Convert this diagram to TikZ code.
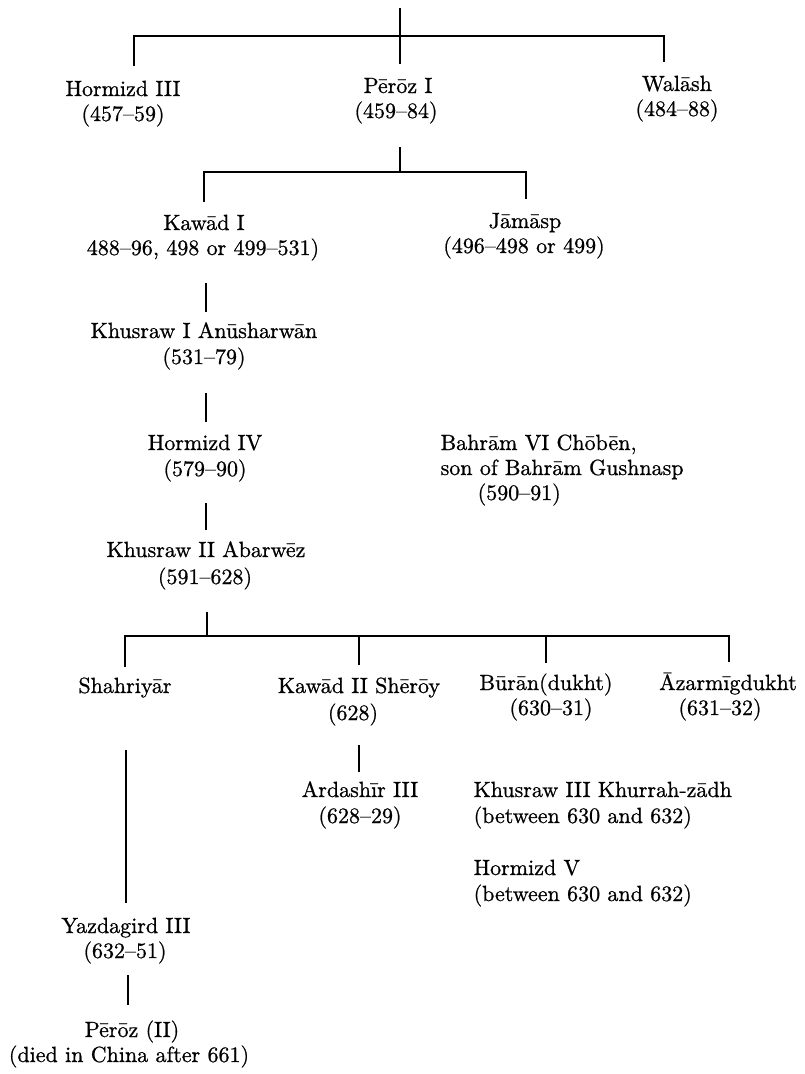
\documentclass[tikz,border=0pt]{standalone}
\usepackage{fontspec}
\setmainfont{lmroman10-regular.otf}[FakeBold=0.8]
\begin{document}
\begin{tikzpicture}[x=1pt,y=-1pt,line width=1.3pt,
  lbl/.style={inner sep=0pt,font=\fontsize{22}{25}\selectfont\bfseries,anchor=base},
  lblw/.style={lbl,anchor=base west}]
\useasboundingbox (0,0) rectangle (804,1074);
% ---------- row 1
\node[lbl] (h3)  at (123,96) {Hormizd III};
\node[lbl] (h3d) at (123,121) {(457–59)};
\node[lbl] (p1)  at (398,93) {Pērōz I};
\node[lbl] (p1d) at (396,118) {(459–84)};
\node[lbl] (w1)  at (677,91) {Walāsh};
\node[lbl] (w1d) at (677,116) {(484–88)};
% ---------- row 2
\node[lbl] (k1)  at (204,230) {Kawād I};
\node[lbl] (k1d) at (203,255) {488–96, 498 or 499–531)};
\node[lbl] (jm)  at (525,228) {Jāmāsp};
\node[lbl] (jmd) at (524,253) {(496–498 or 499)};
% ---------- main line
\node[lbl] (kh1)  at (204,338) {Khusraw I Anūsharwān};
\node[lbl] (kh1d) at (204,364) {(531–79)};
\node[lbl] (h4)   at (205,450) {Hormizd IV};
\node[lbl] (h4d)  at (205,476) {(579–90)};
\node[lblw] (b6a) at (440,450) {Bahrām VI Chōbēn,};
\node[lblw] (b6b) at (440,475) {son of Bahrām Gushnasp};
\node[lblw] (b6d) at (477,500) {(590–91)};
\node[lbl] (kh2)  at (206,557) {Khusraw II Abarwēz};
\node[lbl] (kh2d) at (205,584) {(591–628)};
% ---------- children of Khusraw II
\node[lbl] (sh)   at (125,693) {Shahriyār};
\node[lbl] (kw2)  at (359,693) {Kawād II Shērōy};
\node[lbl] (kw2d) at (353,720) {(628)};
\node[lbl] (bu)   at (546,690) {Būrān(dukht)};
\node[lbl] (bud)  at (551,715) {(630–31)};
\node[lbl] (az)   at (728,690) {Āzarmīgdukht};
\node[lbl] (azd)  at (720,715) {(631–32)};
% ---------- lower rows
\node[lbl] (a3)   at (360,797) {Ardashīr III};
\node[lbl] (a3d)  at (360,823) {(628–29)};
\node[lblw] (kh3)  at (473,797) {Khusraw III Khurrah-zādh};
\node[lblw] (kh3d) at (473,823) {(between 630 and 632)};
\node[lblw] (h5)   at (473,875) {Hormizd V};
\node[lblw] (h5d)  at (473,901) {(between 630 and 632)};
\node[lbl] (y3)   at (126,933) {Yazdagird III};
\node[lbl] (y3d)  at (125,958) {(632–51)};
\node[lbl] (p2)   at (132,1037) {Pērōz (II)};
\node[lbl] (p2d)  at (129,1062) {(died in China after 661)};
% ---------- connector points
\coordinate (t0)    at (400,8);
\coordinate (p1top) at (400,64);
\coordinate (j1)    at (400,36);
\coordinate (h3top) at (134,66);
\coordinate (w1top) at (664,62);
\coordinate (p1bot) at (400,147);
\coordinate (j2)    at (400,172);
\coordinate (k1top) at (204,202);
\coordinate (jmtop) at (526,199);
\coordinate (k1bot) at (206,283);
\coordinate (kh1top) at (206,312);
\coordinate (kh1bot) at (206,393);
\coordinate (h4top) at (206,422);
\coordinate (h4bot) at (206,503);
\coordinate (kh2top) at (206,530);
\coordinate (kh2bot) at (207,612);
\coordinate (j3)    at (207,636);
\coordinate (shtop) at (125,667);
\coordinate (kw2top) at (359,665);
\coordinate (butop) at (546,663);
\coordinate (aztop) at (729,662);
\coordinate (shbot) at (126,750);
\coordinate (y3top) at (126,903);
\coordinate (kw2bot) at (359,745);
\coordinate (a3top) at (359,772);
\coordinate (y3bot) at (128,975);
\coordinate (p2top) at (128,1005);
% ---------- connectors
\draw (t0) -- (p1top);
\draw (h3top) |- (j1) -| (w1top);
\draw (p1bot) -- (j2);
\draw (k1top) |- (j2) -| (jmtop);
\draw (k1bot) -- (kh1top);
\draw (kh1bot) -- (h4top);
\draw (h4bot) -- (kh2top);
\draw (kh2bot) -- (j3);
\draw (shtop) |- (j3) -| (aztop);
\draw (kw2top) -- (kw2top |- j3);
\draw (butop) -- (butop |- j3);
\draw (shbot) -- (y3top);
\draw (kw2bot) -- (a3top);
\draw (y3bot) -- (p2top);
\end{tikzpicture}
\end{document}
